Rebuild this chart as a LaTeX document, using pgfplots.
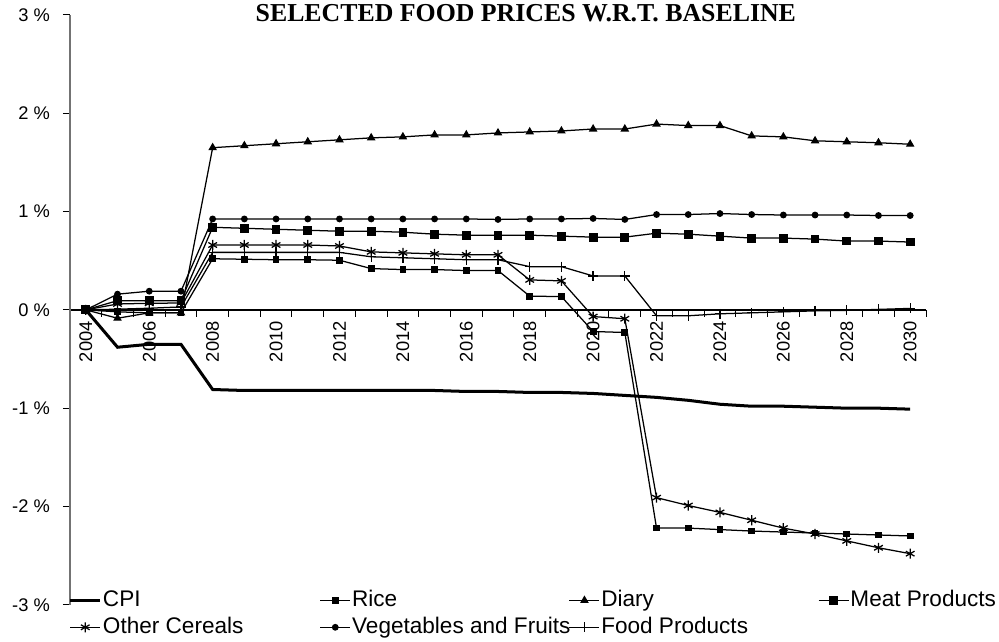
\documentclass[border=0pt]{standalone}
\usepackage{pgfplots}
\pgfplotsset{compat=1.18}
\usepackage{pgfplotstable}
\usepackage{fontspec}
\setmainfont{Liberation Sans}
\newfontfamily\timesfont{Liberation Serif}
\usetikzlibrary{calc}

\pgfplotstableread{
year  cpi    rice    diary  meat   oc      veg    food
2004  0.00   0.00    0.00   0.00   0.00    0.00   0.00
2005 -0.38  -0.02   -0.085  0.094  0.06    0.16   0.007
2006 -0.35  -0.03   -0.03   0.094  0.067   0.19   0.017
2007 -0.35  -0.03   -0.03   0.094  0.07    0.19   0.03
2008 -0.81   0.52    1.65   0.84   0.66    0.925  0.585
2009 -0.82   0.515   1.67   0.83   0.66    0.925  0.585
2010 -0.82   0.51    1.69   0.82   0.66    0.925  0.585
2011 -0.82   0.51    1.71   0.81   0.66    0.925  0.585
2012 -0.82   0.505   1.73   0.80   0.65    0.925  0.585
2013 -0.82   0.42    1.75   0.80   0.59    0.925  0.54
2014 -0.82   0.41    1.76   0.79   0.58    0.925  0.53
2015 -0.82   0.41    1.78   0.77   0.57    0.925  0.52
2016 -0.83   0.40    1.78   0.76   0.56    0.925  0.51
2017 -0.83   0.40    1.80   0.76   0.56    0.92   0.51
2018 -0.84   0.14    1.81   0.76   0.305   0.925  0.44
2019 -0.84   0.135   1.82   0.75   0.295   0.925  0.44
2020 -0.85  -0.22    1.84   0.74  -0.068   0.93   0.345
2021 -0.87  -0.23    1.84   0.74  -0.09    0.92   0.345
2022 -0.89  -2.22    1.89   0.78  -1.91    0.97  -0.06
2023 -0.92  -2.22    1.875  0.77  -1.99    0.97  -0.06
2024 -0.96  -2.235   1.875  0.75  -2.06    0.98  -0.04
2025 -0.98  -2.25    1.77   0.73  -2.14    0.97  -0.03
2026 -0.98  -2.26    1.76   0.73  -2.22    0.965 -0.02
2027 -0.99  -2.27    1.72   0.72  -2.28    0.965 -0.01
2028 -1.00  -2.28    1.71   0.70  -2.35    0.965 -0.005
2029 -1.00  -2.29    1.70   0.70  -2.42    0.96   0.005
2030 -1.01  -2.30    1.685  0.69  -2.48    0.96   0.015
}\data

\begin{document}
\begin{tikzpicture}
\begin{axis}[name=ax, scale only axis, width=12cm, height=8.268cm,
  xmin=-0.5, xmax=26.5, ymin=-3, ymax=3,
  axis x line=middle, axis y line=left,
  axis line style={-},
  x axis line style={black, line width=0.5pt},
  y axis line style={black!55, line width=0.6pt},
  tick align=outside,
  major tick length=0.098cm, minor tick length=0.098cm,
  tick style={black, line width=0.4pt},
  xtick={0,2,...,26},
  xticklabels={2004,2006,2008,2010,2012,2014,2016,2018,2020,2022,2024,2026,2028,2030},
  major x tick style={draw=none},
  minor xtick={-0.5,0.5,...,26.5},
  xticklabel style={yshift=0.06cm, rotate=90, anchor=east, font=\fontsize{7.3}{8.5}\selectfont},
  ytick={-3,-2,-1,0,1,2,3},
  yticklabels={-3 \%,-2 \%,-1 \%,0 \%,1 \%,2 \%,3 \%},
  yticklabel style={xshift=-0.06cm, font=\fontsize{7.3}{8.5}\selectfont},
  /pgf/number format/assume math mode=true,
  every axis plot/.append style={black, line width=0.5pt},
  legend columns=4,
  legend style={draw=none, fill=none, at={(-0.002,0.029)}, anchor=north west,
    inner sep=0pt, column sep=0pt, row sep=0.9pt,
    font=\fontsize{9}{10}\selectfont,
    nodes={inner sep=0.5pt, text height=7pt, text depth=1.8pt}},
  legend cell align=left,
  legend image code/.code={\draw[mark repeat=2,mark phase=2] plot coordinates {(0cm,0cm) (0.21cm,0cm) (0.42cm,0cm)};},
]
\addplot[line width=1.2pt, no markers] table[x expr=\thisrow{year}-2004, y=cpi] {\data};
\addlegendentry{\makebox[3.02cm][l]{CPI}}
\addplot[mark=square*, mark size=1.1pt] table[x expr=\thisrow{year}-2004, y=rice] {\data};
\addlegendentry{\makebox[3.02cm][l]{Rice}}
\addplot[mark=triangle*, mark size=1.5pt] table[x expr=\thisrow{year}-2004, y=diary] {\data};
\addlegendentry{\makebox[3.02cm][l]{Diary}}
\addplot[mark=square*, mark size=1.5pt] table[x expr=\thisrow{year}-2004, y=meat] {\data};
\addlegendentry{\makebox[3.02cm][l]{Meat Products}}
\addplot[mark=asterisk, mark size=2pt, mark options={line width=0.5pt}] table[x expr=\thisrow{year}-2004, y=oc] {\data};
\addlegendentry{\makebox[3.02cm][l]{Other Cereals}}
\addplot[mark=*, mark size=1.1pt] table[x expr=\thisrow{year}-2004, y=veg] {\data};
\addlegendentry{\makebox[3.02cm][l]{Vegetables and Fruits}}
\addplot[mark=+, mark size=2pt] table[x expr=\thisrow{year}-2004, y=food] {\data};
\addlegendentry{\makebox[3.02cm][l]{Food Products}}
\end{axis}
\node[font=\timesfont\bfseries\fontsize{10.3}{12}\selectfont, anchor=base] at ($(ax.north west)+(6.39cm,-0.098cm)$) {SELECTED FOOD PRICES W.R.T. BASELINE};
\pgfresetboundingbox
\path[use as bounding box] ($(ax.south west)+(-0.981cm,-0.519cm)$) rectangle ($(ax.north east)+(1.023cm,0.210cm)$);
\end{tikzpicture}
\end{document}
